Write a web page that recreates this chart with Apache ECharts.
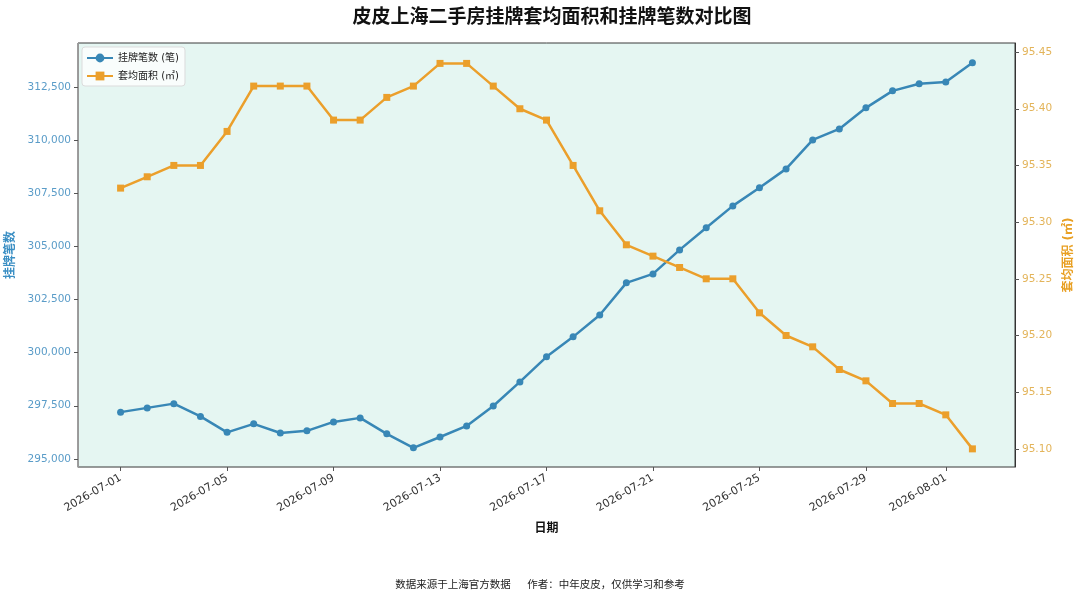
<!DOCTYPE html>
<html>
<head>
<meta charset="utf-8">
<title>皮皮上海二手房挂牌套均面积和挂牌笔数对比图</title>
<script src="https://cdn.jsdelivr.net/npm/echarts@6/dist/echarts.min.js"></script>
<style>
html, body { margin: 0; padding: 0; background: #fff; }
#main { width: 1080px; height: 595px; }
</style>
</head>
<body>
<div id="main"></div>
<script>
// 日期
var dates = [
	'2026-07-01', '2026-07-02', '2026-07-03', '2026-07-04', '2026-07-05', '2026-07-06',
	'2026-07-07', '2026-07-08', '2026-07-09', '2026-07-10', '2026-07-11', '2026-07-12',
	'2026-07-13', '2026-07-14', '2026-07-15', '2026-07-16', '2026-07-17', '2026-07-18',
	'2026-07-19', '2026-07-20', '2026-07-21', '2026-07-22', '2026-07-23', '2026-07-24',
	'2026-07-25', '2026-07-26', '2026-07-27', '2026-07-28', '2026-07-29', '2026-07-30',
	'2026-07-31', '2026-08-01', '2026-08-02'
];
// 挂牌笔数 (笔)
var listings = [
	297200, 297400, 297600, 297000, 296250, 296650,
	296220, 296320, 296740, 296930, 296180, 295520,
	296030, 296550, 297490, 298620, 299800, 300740,
	301770, 303280, 303700, 304830, 305870, 306900,
	307750, 308640, 310000, 310520, 311510, 312310,
	312640, 312730, 313630
];
// 套均面积 (㎡)
var avgArea = [
	95.33, 95.34, 95.35, 95.35, 95.38, 95.42,
	95.42, 95.42, 95.39, 95.39, 95.41, 95.42,
	95.44, 95.44, 95.42, 95.40, 95.39, 95.35,
	95.31, 95.28, 95.27, 95.26, 95.25, 95.25,
	95.22, 95.20, 95.19, 95.17, 95.16, 95.14,
	95.14, 95.13, 95.10
];
// 刻度
var dateTicks = ['2026-07-01', '2026-07-05', '2026-07-09', '2026-07-13', '2026-07-17',
	'2026-07-21', '2026-07-25', '2026-07-29', '2026-08-01'];
var leftTicks = [295000, 297500, 300000, 302500, 305000, 307500, 310000, 312500];
var rightTicks = [95.10, 95.15, 95.20, 95.25, 95.30, 95.35, 95.40, 95.45];

var BLUE = '#3887b6';
var ORANGE = '#eb9f2b';
var FONT = 'DejaVu Sans, "Noto Sans CJK SC", sans-serif';
var DAY = 24 * 3600 * 1000;

// 日期转时间戳
function t(s) {
	return echarts.number.parseDate(s).getTime();
}
function pad(n) {
	return n < 10 ? '0' + n : '' + n;
}

var xMin = t(dates[0]) - 1.6 * DAY;
var xMax = t(dates[dates.length - 1]) + 1.6 * DAY;
var dateTickValues = dateTicks.map(t);

var chart = echarts.init(document.getElementById('main'), null, { renderer: 'canvas' });

var option = {
	backgroundColor: '#ffffff',
	animation: false,
	textStyle: { fontFamily: FONT },
	title: [{
		text: '皮皮上海二手房挂牌套均面积和挂牌笔数对比图',
		left: 547,
		textAlign: 'center',
		top: 4,
		textStyle: { fontSize: 19, fontWeight: 'bold', color: '#111', fontFamily: FONT }
	}, {
		text: '数据来源于上海官方数据     作者：中年皮皮，仅供学习和参考',
		left: 535,
		textAlign: 'center',
		top: 575,
		textStyle: { fontSize: 10.5, fontWeight: 'normal', color: '#222', fontFamily: FONT }
	}],
	legend: {
		orient: 'vertical',
		left: 82,
		top: 47,
		padding: [6, 6, 5, 4],
		itemGap: 8,
		itemWidth: 26,
		itemHeight: 11,
		backgroundColor: 'rgba(255,255,255,0.75)',
		borderColor: '#dcdcdc',
		borderWidth: 1,
		borderRadius: 3,
		textStyle: { fontSize: 10, color: '#222', fontFamily: FONT },
		data: ['挂牌笔数 (笔)', '套均面积 (㎡)']
	},
	grid: {
		left: 78,
		right: 65,
		top: 43,
		bottom: 128,
		outerBoundsMode: 'none',
		containLabel: false,
		show: true,
		backgroundColor: '#e5f6f2',
		borderColor: '#3a3a3a',
		borderWidth: 1
	},
	xAxis: {
		type: 'value',
		min: xMin,
		max: xMax,
		name: '日期',
		nameLocation: 'middle',
		nameGap: 56,
		nameTextStyle: { fontSize: 12, fontWeight: 'bold', color: '#111' },
		axisLine: { show: true, lineStyle: { color: '#999', width: 1 } },
		axisTick: { show: true, customValues: dateTickValues, length: 4, lineStyle: { color: '#555' } },
		axisLabel: {
			customValues: dateTickValues,
			rotate: 30,
			fontSize: 11,
			color: '#333',
			margin: 10,
			formatter: function(v) {
				var d = new Date(v);
				return d.getFullYear() + '-' + pad(d.getMonth() + 1) + '-' + pad(d.getDate());
			}
		},
		splitLine: { show: false }
	},
	yAxis: [{
		type: 'value',
		position: 'left',
		min: 294620,
		max: 314560,
		name: '挂牌笔数',
		nameLocation: 'middle',
		nameRotate: 90,
		nameGap: 56,
		nameTextStyle: { fontSize: 12, fontWeight: 'bold', color: '#3b8fc4' },
		axisLine: { show: true, lineStyle: { color: '#999' } },
		axisTick: { show: true, customValues: leftTicks, length: 4, lineStyle: { color: '#555' } },
		axisLabel: {
			customValues: leftTicks,
			fontSize: 10.5,
			color: '#5a9cc8',
			margin: 7,
			formatter: function(v) {
				return v.toLocaleString('en-US');
			}
		},
		splitLine: { show: false }
	}, {
		type: 'value',
		position: 'right',
		min: 95.084,
		max: 95.458,
		name: '套均面积 (㎡)',
		nameLocation: 'middle',
		nameRotate: 90,
		nameGap: 48,
		nameTextStyle: { fontSize: 12, fontWeight: 'bold', color: '#e8a024' },
		axisLine: { show: true, lineStyle: { color: '#333' } },
		axisTick: { show: true, customValues: rightTicks, length: 4, lineStyle: { color: '#555' } },
		axisLabel: {
			customValues: rightTicks,
			fontSize: 10.5,
			color: '#e3b45a',
			margin: 7,
			formatter: function(v) {
				return v.toFixed(2);
			}
		},
		splitLine: { show: false }
	}],
	series: [{
		name: '挂牌笔数 (笔)',
		type: 'line',
		yAxisIndex: 0,
		symbol: 'circle',
		symbolSize: 7,
		lineStyle: { color: BLUE, width: 2.5 },
		itemStyle: { color: BLUE },
		data: dates.map(function(d, i) { return [t(d), listings[i]]; })
	}, {
		name: '套均面积 (㎡)',
		type: 'line',
		yAxisIndex: 1,
		symbol: 'rect',
		symbolSize: 7,
		lineStyle: { color: ORANGE, width: 2.5 },
		itemStyle: { color: ORANGE },
		data: dates.map(function(d, i) { return [t(d), avgArea[i]]; })
	}]
};

chart.setOption(option);
</script>
</body>
</html>
